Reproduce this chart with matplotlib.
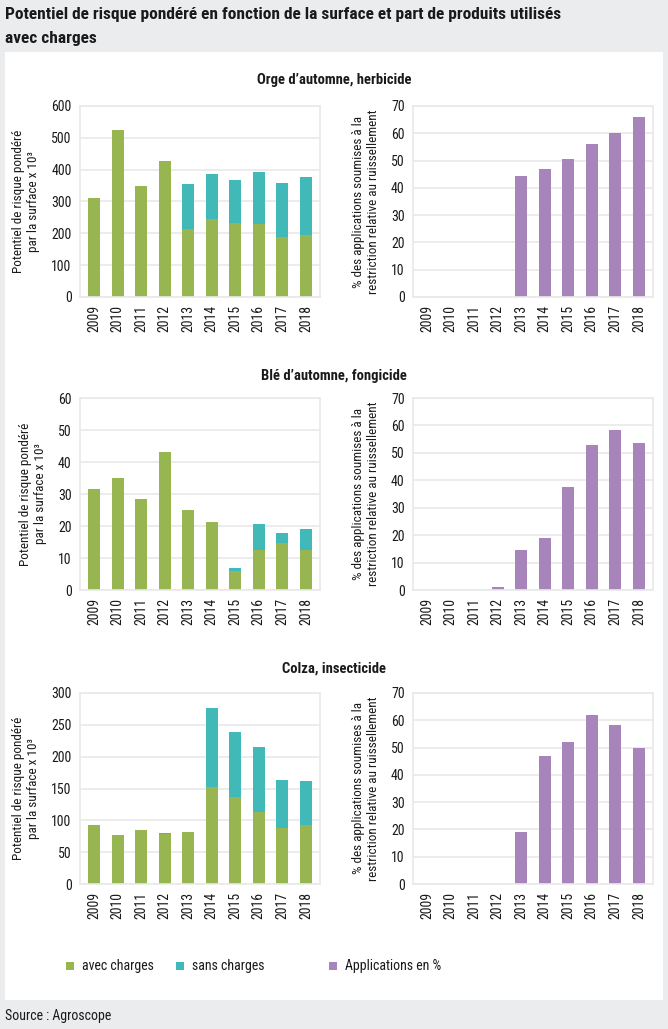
import matplotlib
matplotlib.use("Agg")
import matplotlib.pyplot as plt
from matplotlib import font_manager
from matplotlib.patches import Rectangle
import numpy as np

# pick a narrow font if there is one
FONT = "DejaVu Sans"
for cand in ["Liberation Sans Narrow", "Roboto Condensed", "Open Sans Condensed", "Noto Sans"]:
    try:
        font_manager.findfont(cand, fallback_to_default=False)
        FONT = cand
        break
    except Exception:
        pass
plt.rcParams["font.family"] = [FONT, "DejaVu Sans"]

years = [2009, 2010, 2011, 2012, 2013, 2014, 2015, 2016, 2017, 2018]

# Orge d'automne, herbicide
orge_avec = [312, 525, 350, 428, 215, 245, 234, 228, 190, 196]
orge_sans = [0, 0, 0, 0, 140, 140, 135, 166, 167, 180]
orge_pct = [0, 0, 0, 0, 44.3, 47.0, 50.4, 56.1, 60.1, 65.9]

# Blé d'automne, fongicide
ble_avec = [31.6, 34.9, 28.4, 43.0, 25.1, 21.1, 6.0, 12.6, 14.6, 12.5]
ble_sans = [0, 0, 0, 0, 0, 0, 0.8, 8.0, 3.1, 6.5]
ble_pct = [0, 0, 0, 1.2, 14.5, 19.1, 37.5, 52.7, 58.2, 53.5]

# Colza, insecticide
colza_avec = [93, 77, 85, 78, 81, 152, 136, 113, 88, 92]
colza_sans = [0, 0, 0, 2, 0, 125, 103, 102, 76, 69]
colza_pct = [0, 0, 0, 0, 19.2, 46.9, 52.0, 62.0, 58.1, 49.9]

titles = ["Orge d\u2019automne, herbicide", "Bl\u00e9 d\u2019automne, fongicide", "Colza, insecticide"]
left_ylims = [(600, 100), (60, 10), (300, 50)]

GREEN = "#97b550"
TEAL = "#41b9b9"
PURPLE = "#a784ba"
GRID = "#e9e9e9"
BG = "#ebecee"
TXT = "#1a1a1a"

W, H = 668, 1029
fig = plt.figure(figsize=(W / 100, H / 100), dpi=100, facecolor=BG)


def px(x0, y0, x1, y1):
    return [x0 / W, 1 - y1 / H, (x1 - x0) / W, (y1 - y0) / H]


fig.patches.append(Rectangle((5 / W, 1 - 1000 / H), 658 / W, 948 / H,
                             transform=fig.transFigure, facecolor="white",
                             edgecolor="none", zorder=-5))

fig.text(5 / W, 1 - 15 / H, "Potentiel de risque pond\u00e9r\u00e9 en fonction de la surface et part de produits utilis\u00e9s",
         fontsize=12.5, fontweight="bold", color=TXT, va="center", ha="left")
fig.text(5 / W, 1 - 38 / H, "avec charges", fontsize=12.5, fontweight="bold",
         color=TXT, va="center", ha="left")
fig.text(5 / W, 1 - 1016 / H, "Source : Agroscope", fontsize=10, color=TXT,
         va="center", ha="left")

rows = [(106, 297), (398, 590), (693, 884)]
sub_y = [80, 376, 669]
data = [(orge_avec, orge_sans, orge_pct), (ble_avec, ble_sans, ble_pct),
        (colza_avec, colza_sans, colza_pct)]

x = np.arange(len(years))


def style(ax, ylim, step):
    ax.set_xlim(-0.6, len(years) - 0.4)
    ax.set_ylim(0, ylim)
    ax.set_yticks(np.arange(0, ylim + 0.1, step))
    ax.set_xticks(x)
    ax.set_xticklabels([str(y) for y in years], rotation=90)
    ax.tick_params(length=0, labelsize=10, colors=TXT, pad=6)
    ax.grid(axis="y", color=GRID, linewidth=1.2)
    ax.set_axisbelow(True)
    for s in ax.spines.values():
        s.set_color(GRID)
        s.set_linewidth(1.2)


for i, (y0, y1) in enumerate(rows):
    avec, sans, pct = data[i]
    fig.text(334 / W, 1 - sub_y[i] / H, titles[i], fontsize=10.5, fontweight="bold",
             color=TXT, ha="center", va="center")

    ax = fig.add_axes(px(80, y0, 320, y1))
    ax.bar(x, avec, width=0.5, color=GREEN, zorder=2)
    ax.bar(x, sans, width=0.5, bottom=avec, color=TEAL, zorder=2)
    style(ax, *left_ylims[i])
    ax.set_ylabel("Potentiel de risque pond\u00e9r\u00e9\npar la surface x 10\u00b3",
                  fontsize=9.5, color=TXT, labelpad=8)

    ax2 = fig.add_axes(px(413, y0, 653, y1))
    ax2.bar(x, pct, width=0.5, color=PURPLE, zorder=2)
    style(ax2, 70, 10)
    ax2.set_ylabel("% des applications soumises \u00e0 la\nrestriction relative au ruissellement",
                   fontsize=9.5, color=TXT, labelpad=8)

# legend
leg = [(70, GREEN, "avec charges"), (180, TEAL, "sans charges"),
       (333, PURPLE, "Applications en %")]
for lx, col, lab in leg:
    fig.patches.append(Rectangle(((lx - 4) / W, 1 - 970 / H), 8 / W, 8 / H,
                                 transform=fig.transFigure, facecolor=col,
                                 edgecolor="none", zorder=3))
    fig.text((lx + 12) / W, 1 - 966 / H, lab, fontsize=10, color=TXT,
             ha="left", va="center")

fig.savefig("out.png", dpi=100, facecolor=BG)
